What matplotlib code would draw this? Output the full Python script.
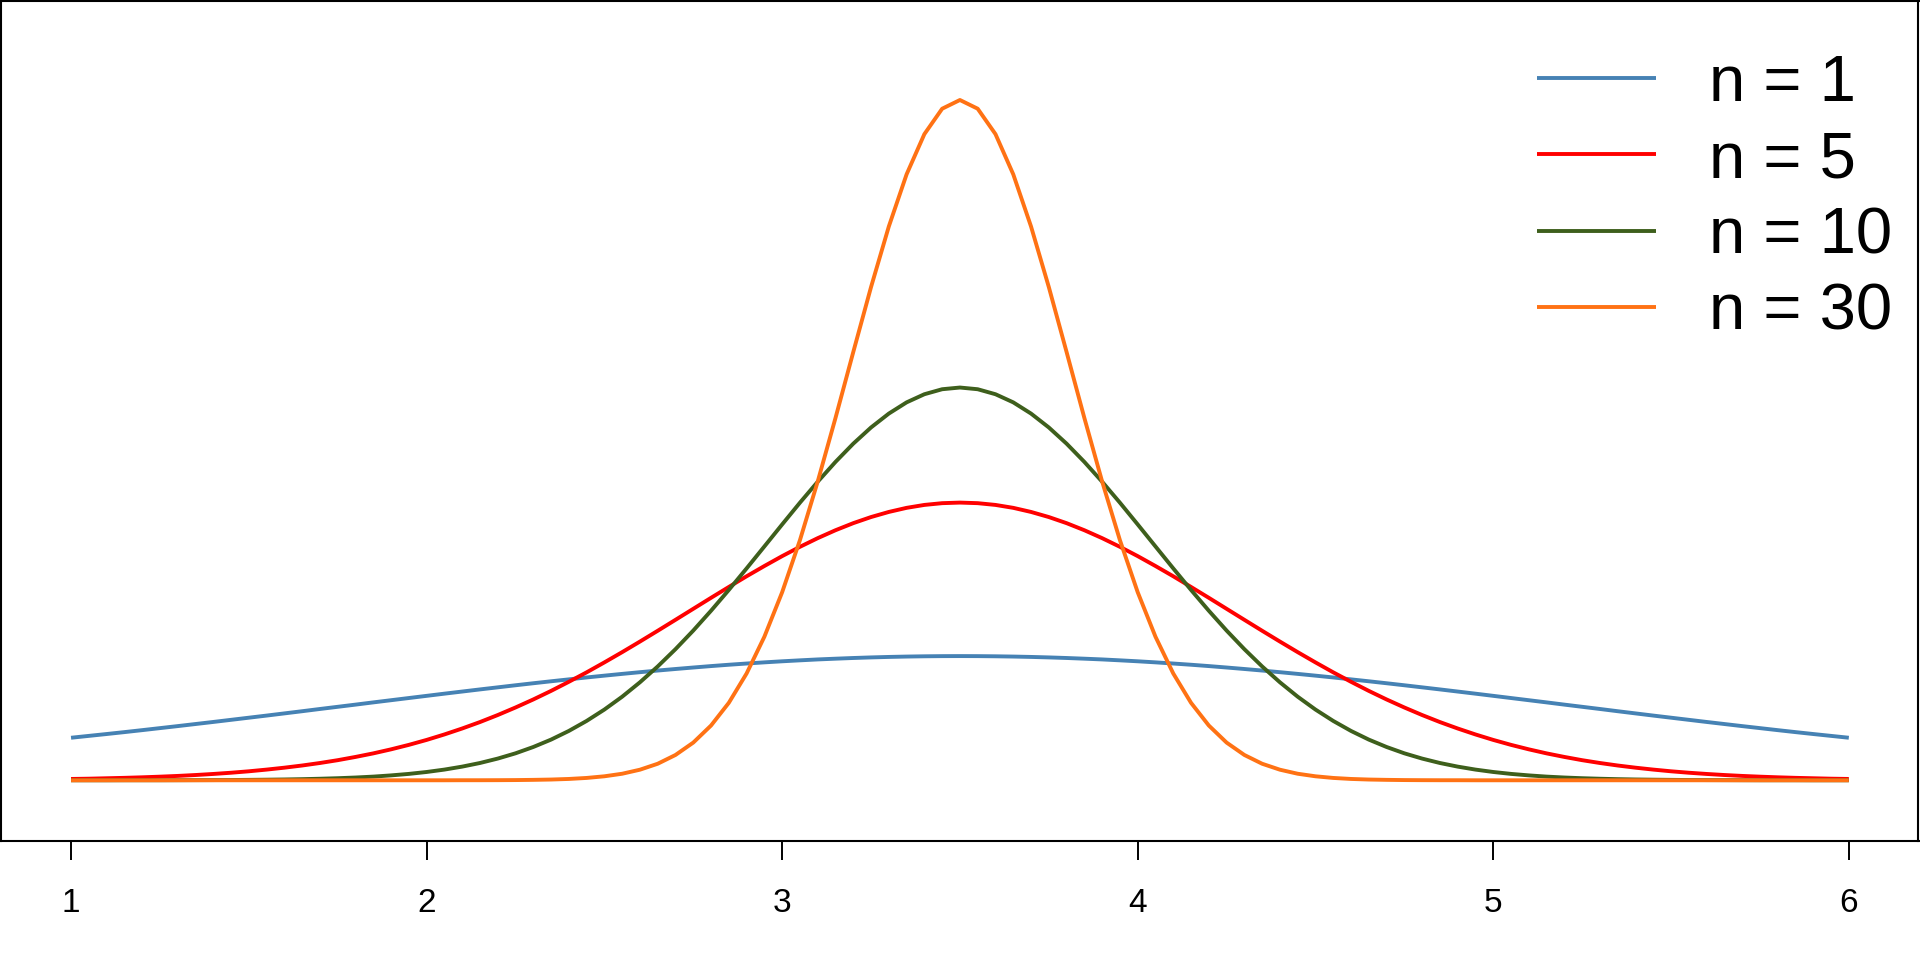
import numpy as np
import matplotlib
matplotlib.use("Agg")
import matplotlib.pyplot as plt

plt.rcParams['font.family'] = ['Liberation Sans', 'DejaVu Sans']

# x grid 1..6, step 0.05
x = np.linspace(1, 6, 101)

# density of the mean of n dice
n1 = [0.0800, 0.0835, 0.0870, 0.0906, 0.0943, 0.0981, 0.1019, 0.1058, 0.1097, 0.1137,
      0.1177, 0.1217, 0.1258, 0.1299, 0.1341, 0.1382, 0.1423, 0.1465, 0.1506, 0.1547,
      0.1588, 0.1629, 0.1669, 0.1709, 0.1748, 0.1787, 0.1825, 0.1862, 0.1898, 0.1934,
      0.1968, 0.2001, 0.2033, 0.2064, 0.2093, 0.2121, 0.2148, 0.2173, 0.2196, 0.2218,
      0.2238, 0.2256, 0.2273, 0.2287, 0.2300, 0.2311, 0.2320, 0.2327, 0.2332, 0.2335,
      0.2336,
      0.2335, 0.2332, 0.2327, 0.2320, 0.2311, 0.2300, 0.2287, 0.2273, 0.2256, 0.2238,
      0.2218, 0.2196, 0.2173, 0.2148, 0.2121, 0.2093, 0.2064, 0.2033, 0.2001, 0.1968,
      0.1934, 0.1898, 0.1862, 0.1825, 0.1787, 0.1748, 0.1709, 0.1669, 0.1629, 0.1588,
      0.1547, 0.1506, 0.1465, 0.1423, 0.1382, 0.1341, 0.1299, 0.1258, 0.1217, 0.1177,
      0.1137, 0.1097, 0.1058, 0.1019, 0.0981, 0.0943, 0.0906, 0.0870, 0.0835, 0.0800]

n5 = [0.0025, 0.0030, 0.0038, 0.0046, 0.0056, 0.0068, 0.0082, 0.0099, 0.0119, 0.0142,
      0.0169, 0.0201, 0.0237, 0.0278, 0.0325, 0.0378, 0.0439, 0.0506, 0.0582, 0.0666,
      0.0759, 0.0862, 0.0974, 0.1095, 0.1227, 0.1369, 0.1520, 0.1681, 0.1852, 0.2030,
      0.2217, 0.2410, 0.2609, 0.2812, 0.3018, 0.3225, 0.3432, 0.3636, 0.3837, 0.4030,
      0.4216, 0.4391, 0.4554, 0.4703, 0.4836, 0.4951, 0.5047, 0.5124, 0.5179, 0.5212,
      0.5223,
      0.5212, 0.5179, 0.5124, 0.5047, 0.4951, 0.4836, 0.4703, 0.4554, 0.4391, 0.4216,
      0.4030, 0.3837, 0.3636, 0.3432, 0.3225, 0.3018, 0.2812, 0.2609, 0.2410, 0.2217,
      0.2030, 0.1852, 0.1681, 0.1520, 0.1369, 0.1227, 0.1095, 0.0974, 0.0862, 0.0759,
      0.0666, 0.0582, 0.0506, 0.0439, 0.0378, 0.0325, 0.0278, 0.0237, 0.0201, 0.0169,
      0.0142, 0.0119, 0.0099, 0.0082, 0.0068, 0.0056, 0.0046, 0.0038, 0.0030, 0.0025]

n10 = [0.0000, 0.0000, 0.0000, 0.0001, 0.0001, 0.0001, 0.0002, 0.0003, 0.0004, 0.0005,
       0.0008, 0.0011, 0.0015, 0.0021, 0.0029, 0.0039, 0.0052, 0.0069, 0.0092, 0.0120,
       0.0156, 0.0201, 0.0257, 0.0325, 0.0408, 0.0507, 0.0626, 0.0765, 0.0928, 0.1116,
       0.1330, 0.1572, 0.1843, 0.2141, 0.2466, 0.2816, 0.3189, 0.3580, 0.3985, 0.4398,
       0.4812, 0.5221, 0.5615, 0.5988, 0.6331, 0.6636, 0.6897, 0.7108, 0.7261, 0.7355,
       0.7387,
       0.7355, 0.7261, 0.7108, 0.6897, 0.6636, 0.6331, 0.5988, 0.5615, 0.5221, 0.4812,
       0.4398, 0.3985, 0.3580, 0.3189, 0.2816, 0.2466, 0.2141, 0.1843, 0.1572, 0.1330,
       0.1116, 0.0928, 0.0765, 0.0626, 0.0507, 0.0408, 0.0325, 0.0257, 0.0201, 0.0156,
       0.0120, 0.0092, 0.0069, 0.0052, 0.0039, 0.0029, 0.0021, 0.0015, 0.0011, 0.0008,
       0.0005, 0.0004, 0.0003, 0.0002, 0.0001, 0.0001, 0.0001, 0.0000, 0.0000, 0.0000]

n30 = [0.0000, 0.0000, 0.0000, 0.0000, 0.0000, 0.0000, 0.0000, 0.0000, 0.0000, 0.0000,
       0.0000, 0.0000, 0.0000, 0.0000, 0.0000, 0.0000, 0.0000, 0.0000, 0.0000, 0.0000,
       0.0000, 0.0000, 0.0001, 0.0001, 0.0002, 0.0004, 0.0008, 0.0014, 0.0025, 0.0044,
       0.0075, 0.0123, 0.0199, 0.0311, 0.0476, 0.0709, 0.1030, 0.1457, 0.2009, 0.2700,
       0.3537, 0.4516, 0.5619, 0.6814, 0.8054, 0.9277, 1.0416, 1.1397, 1.2153, 1.2631,
       1.2795,
       1.2631, 1.2153, 1.1397, 1.0416, 0.9277, 0.8054, 0.6814, 0.5619, 0.4516, 0.3537,
       0.2700, 0.2009, 0.1457, 0.1030, 0.0709, 0.0476, 0.0311, 0.0199, 0.0123, 0.0075,
       0.0044, 0.0025, 0.0014, 0.0008, 0.0004, 0.0002, 0.0001, 0.0001, 0.0000, 0.0000,
       0.0000, 0.0000, 0.0000, 0.0000, 0.0000, 0.0000, 0.0000, 0.0000, 0.0000, 0.0000,
       0.0000, 0.0000, 0.0000, 0.0000, 0.0000, 0.0000, 0.0000, 0.0000, 0.0000, 0.0000]

labels = ['n = 1', 'n = 5', 'n = 10', 'n = 30']
colors = ['#4682B4', '#FF0000', '#3E5F1C', '#FF7214']
ticks = [1, 2, 3, 4, 5, 6]

fig = plt.figure(figsize=(19.2, 9.6), dpi=100)
ax = fig.add_axes([1 / 1920, 119 / 960, 1917.5 / 1920, 840 / 960])

for ys, lab, c in zip([n1, n5, n10, n30], labels, colors):
    ax.plot(x, ys, color=c, lw=2.8, label=lab, solid_capstyle='butt')

ax.set_xlim(0.803, 6.196)
ax.set_ylim(-0.1142, 1.4657)
ax.set_xticks(ticks)
ax.set_xticklabels([str(t) for t in ticks], fontsize=24)
ax.set_yticks([])
ax.tick_params(axis='x', direction='out', length=13.7, width=1.4, pad=20)
for s in ax.spines.values():
    s.set_linewidth(1.5)
    s.set_color('black')

leg = ax.legend(loc='upper left', bbox_to_anchor=(0.801, 0.937), frameon=False,
                fontsize=47, handlelength=1.82, handletextpad=0.81,
                labelspacing=0.25, borderpad=0, borderaxespad=0)
for line in leg.get_lines():
    line.set_linewidth(2.8)

fig.savefig('out.png', dpi=100, facecolor='white')
